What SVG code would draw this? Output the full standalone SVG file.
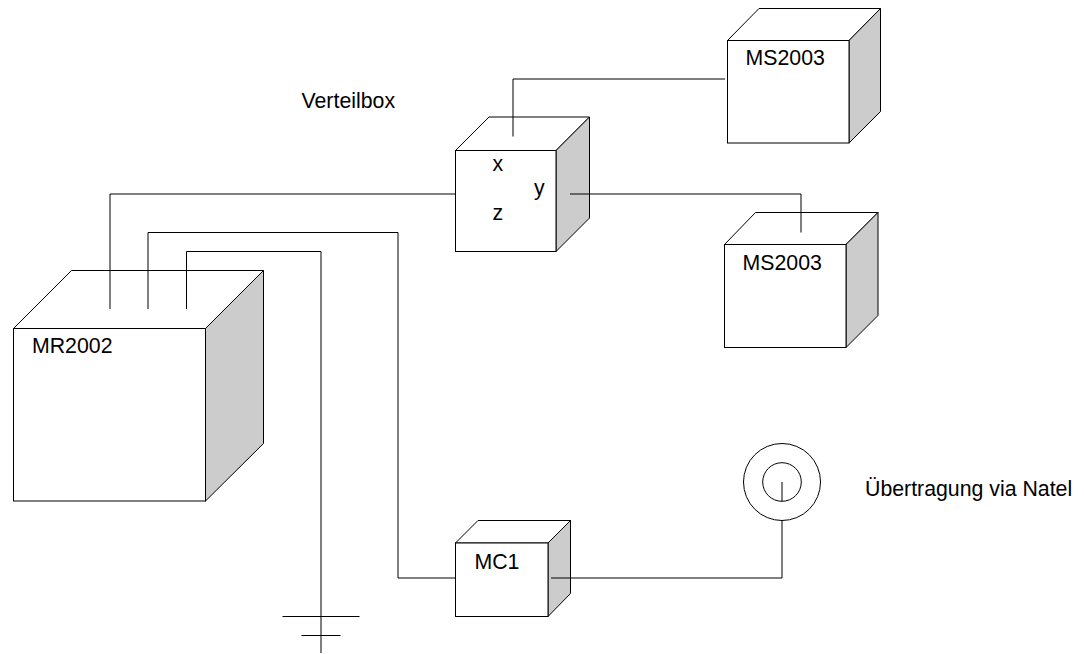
<svg xmlns="http://www.w3.org/2000/svg" width="1084" height="654" viewBox="0 0 1084 654">
<style>
.front{fill:#fff;stroke:#000;stroke-width:1}
.top{fill:#fff;stroke:#000;stroke-width:1;stroke-linejoin:miter}
.side{fill:#ccc;stroke:#000;stroke-width:1}
.wire{fill:none;stroke:#000;stroke-width:1}
.ring{fill:#fff;stroke:#000;stroke-width:1}
text{font-family:"Liberation Sans",Arial,sans-serif;font-size:21.3px;fill:#000}
</style>
<rect width="1084" height="654" fill="#fff"/>
<g id="MR2002">
<polygon class="top" points="13.5,328.5 71.5,270.5 263.5,270.5 205.5,328.5"/>
<polygon class="side" points="205.5,328.5 263.5,270.5 263.5,443.5 205.5,501"/>
<rect class="front" x="13.5" y="328.5" width="192" height="172.5"/>
<text x="32" y="353">MR2002</text>
</g>
<g id="Verteilbox">
<polygon class="top" points="455.5,150.5 489,117 589.5,117 556,150.5"/>
<polygon class="side" points="556,150.5 589.5,117 589.5,218 556,251.5"/>
<rect class="front" x="455.5" y="150.5" width="100.5" height="101"/>
<text x="492.5" y="171">x</text>
<text x="534" y="195">y</text>
<text x="492.5" y="220">z</text>
</g>
<g id="MS2003a">
<polygon class="top" points="727.5,40.5 759,8.5 880.5,8.5 849,40.5"/>
<polygon class="side" points="849,40.5 880.5,8.5 880.5,111.5 849,143"/>
<rect class="front" x="727.5" y="40.5" width="121.5" height="102.5"/>
<text x="745.5" y="64.5">MS2003</text>
</g>
<g id="MS2003b">
<polygon class="top" points="724.5,244.5 755.5,212.5 878,212.5 846,244.5"/>
<polygon class="side" points="846,244.5 878,212.5 878,315.5 846,347.5"/>
<rect class="front" x="724.5" y="244.5" width="121.5" height="103"/>
<text x="742.5" y="269.5">MS2003</text>
</g>
<g id="MC1">
<polygon class="top" points="455.5,543 478,520.5 570.5,520.5 548,543"/>
<polygon class="side" points="548,543 570.5,520.5 570.5,593.5 548,616.5"/>
<rect class="front" x="455.5" y="543" width="92.5" height="73.5"/>
<text x="474.5" y="568.5">MC1</text>
</g>
<g id="antenna">
<circle class="ring" cx="782" cy="482" r="38.5"/>
<circle class="ring" cx="782" cy="482" r="19.3"/>
</g>
<g id="ground">
<line class="wire" x1="282.5" y1="616.5" x2="359.5" y2="616.5"/>
<line class="wire" x1="301.5" y1="635.5" x2="340.5" y2="635.5"/>
</g>
<g id="connectors">
<path class="wire" d="M110,309V194H455"/>
<path class="wire" d="M148,309V232.5H398V578H455"/>
<path class="wire" d="M186.500,309V251.500H321V653"/>
<path class="wire" d="M513,136.500V79H725"/>
<path class="wire" d="M570,194H801V232.500"/>
<path class="wire" d="M551,578H782V520.500"/>
<path class="wire" d="M782,482V501"/>
</g>
<text id="label-verteilbox" x="301.500" y="108">Verteilbox</text>
<text id="label-natel" x="865" y="495.500">Übertragung via Natel</text>
</svg>
